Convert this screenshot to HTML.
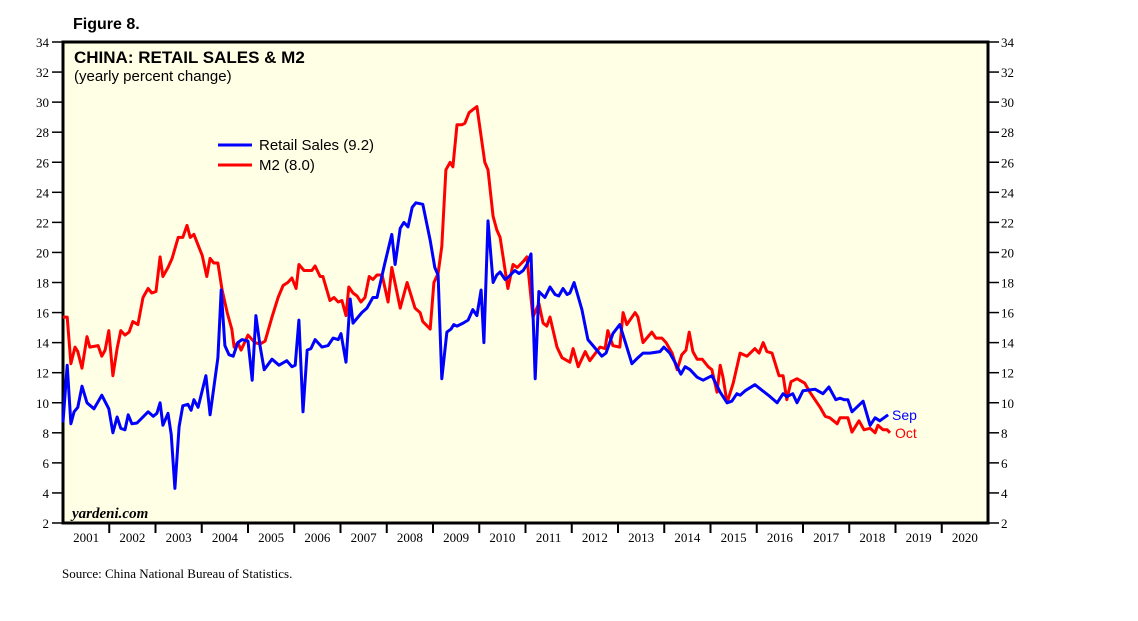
<!DOCTYPE html>
<html><head><meta charset="utf-8"><style>
body{margin:0;background:#fff;}
svg{display:block;}
</style></head><body>
<svg id="chart" width="1138" height="621" xmlns="http://www.w3.org/2000/svg" font-family="Liberation Sans, sans-serif">
<text x="73" y="29" font-size="16" font-weight="bold">Figure 8.</text>
<rect x="63" y="42" width="925" height="481" fill="#ffffe6" stroke="#000" stroke-width="3"/>
<text x="74" y="63" font-size="17" font-weight="bold">CHINA: RETAIL SALES &amp; M2</text>
<text x="74" y="81" font-size="15">(yearly percent change)</text>
<g id="axes"></g>
<g id="series"></g>
<line x1="218" y1="145" x2="252" y2="145" stroke="#0000ff" stroke-width="3"/>
<text x="259" y="150" font-size="15">Retail Sales (9.2)</text>
<line x1="218" y1="165" x2="252" y2="165" stroke="#ff0000" stroke-width="3"/>
<text x="259" y="170" font-size="15">M2 (8.0)</text>
<text x="892" y="420" font-size="14" fill="#0000ff">Sep</text>
<text x="895" y="438" font-size="14" fill="#ff0000">Oct</text>
<text x="72" y="518" font-size="15" font-style="italic" font-weight="bold" font-family="Liberation Serif, serif">yardeni.com</text>
<text x="62" y="578" font-size="13" font-family="Liberation Serif, serif">Source: China National Bureau of Statistics.</text>
</svg>
<script>
const yTicks=[2,4,6,8,10,12,14,16,18,20,22,24,26,28,30,32,34];
const years=[2001,2002,2003,2004,2005,2006,2007,2008,2009,2010,2011,2012,2013,2014,2015,2016,2017,2018,2019,2020];
const retailDates=[2001.0,2001.09,2001.17,2001.24,2001.32,2001.41,2001.52,2001.67,2001.84,2001.99,2002.08,2002.17,2002.25,2002.34,2002.41,2002.49,2002.6,2002.84,2002.95,2003.03,2003.1,2003.16,2003.27,2003.34,2003.42,2003.51,2003.59,2003.7,2003.77,2003.83,2003.92,2004.09,2004.18,2004.35,2004.42,2004.5,2004.59,2004.68,2004.78,2004.87,2005.0,2005.09,2005.17,2005.26,2005.35,2005.52,2005.67,2005.84,2005.95,2006.02,2006.1,2006.19,2006.28,2006.36,2006.45,2006.6,2006.73,2006.84,2006.95,2007.01,2007.12,2007.21,2007.27,2007.46,2007.57,2007.7,2007.79,2007.96,2008.11,2008.18,2008.29,2008.37,2008.46,2008.55,2008.63,2008.78,2008.94,2009.04,2009.11,2009.19,2009.3,2009.39,2009.45,2009.52,2009.65,2009.76,2009.86,2009.95,2010.04,2010.1,2010.19,2010.3,2010.38,2010.45,2010.56,2010.64,2010.77,2010.86,2010.95,2011.03,2011.12,2011.21,2011.29,2011.42,2011.53,2011.64,2011.72,2011.81,2011.9,2011.96,2012.05,2012.22,2012.35,2012.46,2012.65,2012.74,2012.89,2013.04,2013.19,2013.3,2013.43,2013.54,2013.69,2013.91,2013.99,2014.12,2014.23,2014.36,2014.45,2014.56,2014.71,2014.84,2015.03,2015.21,2015.36,2015.46,2015.57,2015.64,2015.75,2015.96,2016.29,2016.44,2016.57,2016.65,2016.78,2016.87,2017.0,2017.26,2017.43,2017.56,2017.71,2017.8,2017.89,2017.97,2018.06,2018.3,2018.45,2018.56,2018.66,2018.84];
const retailValues=[8.7,12.5,8.6,9.4,9.7,11.1,10,9.6,10.5,9.6,8.0,9.05,8.3,8.2,9.2,8.6,8.65,9.4,9.1,9.3,10,8.5,9.3,7.9,4.3,8.4,9.8,9.9,9.5,10.2,9.7,11.8,9.2,13.0,17.5,13.8,13.2,13.1,14.0,14.2,14.1,11.5,15.8,13.8,12.2,12.9,12.5,12.8,12.4,12.5,15.5,9.4,13.5,13.6,14.2,13.7,13.8,14.3,14.2,14.6,12.7,16.9,15.3,16.0,16.3,17.0,17.0,19.3,21.2,19.2,21.6,22,21.7,23,23.3,23.2,20.8,19,18.5,11.6,14.7,14.9,15.2,15.1,15.3,15.5,16.2,15.8,17.5,14,22.1,18,18.5,18.7,18.2,18.4,18.8,18.6,18.8,19.2,19.9,11.6,17.4,17,17.7,17.2,17.1,17.6,17.2,17.3,18,16.2,14.2,13.8,13.1,13.3,14.6,15.2,13.7,12.6,13,13.3,13.3,13.4,13.7,13.3,12.7,11.9,12.4,12.2,11.7,11.5,11.8,10.7,10.0,10.1,10.6,10.5,10.8,11.2,10.4,10.0,10.6,10.4,10.6,10.0,10.8,10.9,10.6,11.05,10.2,10.3,10.2,10.2,9.4,10.1,8.5,9.0,8.8,9.2];
const m2Dates=[2001.0,2001.09,2001.17,2001.26,2001.32,2001.41,2001.52,2001.58,2001.76,2001.84,2001.91,2001.99,2002.08,2002.17,2002.25,2002.34,2002.43,2002.51,2002.62,2002.73,2002.84,2002.92,2003.01,2003.1,2003.16,2003.27,2003.36,2003.49,2003.59,2003.68,2003.75,2003.83,2004.01,2004.11,2004.18,2004.26,2004.35,2004.44,2004.55,2004.65,2004.7,2004.78,2004.85,2005.0,2005.15,2005.26,2005.37,2005.52,2005.65,2005.76,2005.86,2005.95,2006.04,2006.1,2006.21,2006.38,2006.45,2006.56,2006.62,2006.77,2006.86,2006.95,2007.03,2007.12,2007.18,2007.27,2007.36,2007.44,2007.53,2007.62,2007.7,2007.79,2007.9,2008.03,2008.11,2008.29,2008.44,2008.61,2008.72,2008.78,2008.94,2009.02,2009.11,2009.19,2009.28,2009.37,2009.43,2009.52,2009.63,2009.69,2009.78,2009.95,2010.12,2010.19,2010.3,2010.38,2010.45,2010.62,2010.73,2010.82,2010.95,2011.03,2011.16,2011.29,2011.38,2011.46,2011.53,2011.68,2011.79,2011.96,2012.03,2012.14,2012.29,2012.39,2012.61,2012.72,2012.78,2012.89,2013.04,2013.11,2013.19,2013.37,2013.43,2013.54,2013.73,2013.82,2013.95,2014.04,2014.17,2014.28,2014.38,2014.47,2014.54,2014.62,2014.71,2014.82,2014.95,2015.03,2015.14,2015.21,2015.27,2015.36,2015.49,2015.64,2015.79,2015.96,2016.05,2016.14,2016.22,2016.33,2016.48,2016.57,2016.65,2016.74,2016.87,2017.04,2017.15,2017.37,2017.48,2017.58,2017.74,2017.8,2017.97,2018.06,2018.21,2018.32,2018.45,2018.56,2018.62,2018.73,2018.82,2018.88];
const m2Values=[15.7,15.7,12.6,13.7,13.4,12.3,14.4,13.7,13.8,13.1,13.5,14.8,11.8,13.6,14.8,14.5,14.7,15.4,15.2,17,17.6,17.3,17.4,19.7,18.4,19,19.6,21,21,21.8,21,21.2,19.8,18.4,19.6,19.3,19.3,17.5,16,14.9,13.7,14,13.5,14.5,14,13.9,14.1,15.7,17,17.8,18,18.3,17.6,19.2,18.8,18.8,19.1,18.4,18.4,16.8,17,16.7,16.8,15.8,17.7,17.3,17.1,16.7,17,18.4,18.2,18.5,18.5,16.7,19,16.3,18,16.3,16,15.4,14.9,18,18.6,20.4,25.5,26,25.7,28.5,28.5,28.6,29.3,29.7,26,25.5,22.4,21.5,21,17.6,19.2,19,19.4,19.7,15.7,16.6,15.3,15.1,15.7,13.7,13,12.7,13.6,12.4,13.4,12.8,13.7,13.6,14.8,13.8,13.7,16,15.2,16,15.7,14,14.7,14.3,14.3,14,13.3,12.2,13.2,13.5,14.7,13.4,12.9,12.9,12.4,12.2,10.7,12.5,11.7,10,11.3,13.3,13.1,13.6,13.3,14,13.4,13.3,11.8,11.8,10.2,11.4,11.6,11.3,10.7,9.7,9.1,9.0,8.6,9.0,9.0,8.05,8.8,8.2,8.3,8.0,8.5,8.2,8.2,8.0];
const NS='http://www.w3.org/2000/svg';
const L=63,R=988,T=42,B=523;
function xs(t){return L+(t-2001)*(R-L)/20;}
function ys(v){return T+(34-v)*(B-T)/32;}
const axes=document.getElementById('axes');
function mk(tag,attrs,parent){const e=document.createElementNS(NS,tag);for(const k in attrs)e.setAttribute(k,attrs[k]);parent.appendChild(e);return e;}
yTicks.forEach(v=>{
  const y=ys(v);
  const t1=mk('line',{x1:52,x2:63,y1:y,y2:y,stroke:'#000','stroke-width':1.5},axes);
  
  
  const t2=mk('line',{x1:988,x2:999,y1:y,y2:y,stroke:'#000','stroke-width':1.5},axes);
  
  
  const l1=mk('text',{x:49,y:y+5,'text-anchor':'end','font-size':13,'font-family':'Liberation Serif, serif'},axes);
  l1.textContent=v;
  
  
  const l2=mk('text',{x:1001,y:y+5,'font-size':13,'font-family':'Liberation Serif, serif'},axes);
  l2.textContent=v;
  
  
});
years.forEach(yr=>{
  const x0=xs(yr);
  if(yr>2001){
    const tk=mk('line',{x1:x0,x2:x0,y1:B,y2:B+10,stroke:'#000','stroke-width':2},axes);
    
    
  }
  const lb=mk('text',{x:xs(yr+0.5),y:B+19,'text-anchor':'middle','font-size':13,'font-family':'Liberation Serif, serif'},axes);
  lb.textContent=yr;
  
  
});
const ser=document.getElementById('series');
function line(d,v,col,name){
  const pts=d.map((t,i)=>xs(t).toFixed(1)+','+ys(v[i]).toFixed(1)).join(' ');
  const p=mk('polyline',{points:pts,fill:'none',stroke:col,'stroke-width':3,'stroke-linejoin':'round'},ser);
  
  
}
line(m2Dates,m2Values,'#ff0000','m2-line');
line(retailDates,retailValues,'#0000ff','retail-sales-line');
</script>
</body></html>
